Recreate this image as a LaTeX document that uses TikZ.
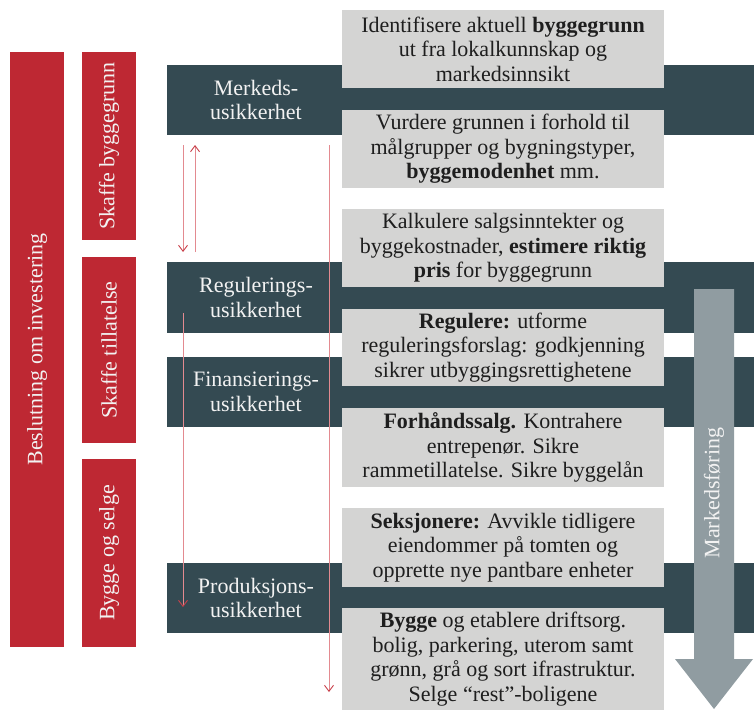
\documentclass[tikz,border=0pt]{standalone}
\usepackage{fontspec}
\setmainfont{Liberation Serif}
\usetikzlibrary{arrows.meta}
\definecolor{redbox}{HTML}{BE2833}
\definecolor{darkbar}{HTML}{344A52}
\definecolor{graybox}{HTML}{D4D4D3}
\definecolor{arrowgray}{HTML}{909CA1}
\definecolor{thinred}{HTML}{E38A90}
\definecolor{tipred}{HTML}{C8404A}
\definecolor{txt}{HTML}{1E1E1E}
\definecolor{lighttxt}{HTML}{F2F2F2}
\begin{document}
\begin{tikzpicture}[x=1pt,y=-1pt,
  fnt/.style={font=\fontsize{22}{24.5}\selectfont},
  redbar/.style={fill=redbox, draw=none, inner sep=0pt, text=lighttxt, rotate=90, fnt, minimum height=54pt},
  darkband/.style={fill=darkbar, draw=none, inner sep=0pt, anchor=west, minimum width=587pt, minimum height=70pt},
  barlabel/.style={text=lighttxt, align=center, fnt, inner sep=0pt},
  grayb/.style={fill=graybox, draw=none, inner sep=0pt, text=txt, align=center, fnt, minimum width=322pt},
  thinarrow/.style={draw=thinred, line width=0.9pt, -{Straight Barb[length=6pt,width=9pt,color=tipred]}}
]
\useasboundingbox (0,0) rectangle (754,709);

% red phase bars
\node[redbar, minimum width=595pt] (dec) at (37,349.5) {Beslutning om investering};
\node[redbar, minimum width=188pt] (p1) at (109,146) {Skaffe byggegrunn};
\node[redbar, minimum width=186pt] (p2) at (109,350) {Skaffe tillatelse};
\node[redbar, minimum width=188pt] (p3) at (109,553) {Bygge og selge};

% dark uncertainty bands
\node[darkband] (b1) at (167,100) {};
\node[darkband, minimum height=71pt] (b2) at (167,297.5) {};
\node[darkband] (b3) at (167,392) {};
\node[darkband] (b4) at (167,598) {};
\node[barlabel] (l1) at (256,100) {Merkeds-\\usikkerhet};
\node[barlabel] (l2) at (256,297.5) {Regulerings-\\usikkerhet};
\node[barlabel] (l3) at (256,392) {Finansierings-\\usikkerhet};
\node[barlabel] (l4) at (256,598) {Produksjons-\\usikkerhet};

% thin red arrows
\coordinate (a1s) at (183,145); \coordinate (a1e) at (183,252);
\coordinate (a2s) at (195,252); \coordinate (a2e) at (195,145);
\coordinate (a3s) at (183,313); \coordinate (a3e) at (183,607);
\coordinate (a4s) at (329,145); \coordinate (a4e) at (329,692);
\draw[thinarrow] (a1s) -- (a1e);
\draw[thinarrow] (a2s) -- (a2e);
\draw[thinarrow] (a3s) -- (a3e);
\draw[thinarrow] (a4s) -- (a4e);

% gray activity boxes
\node[grayb, minimum height=78pt] (g1) at (503,49) {Identifisere aktuell \textbf{byggegrunn}\\ut fra lokalkunnskap og\\markedsinnsikt};
\node[grayb, minimum height=78pt] (g2) at (503,149) {Vurdere grunnen i forhold til\\målgrupper og bygningstyper,\\\textbf{byggemodenhet} mm.};
\node[grayb, minimum height=78pt] (g3) at (503,248) {Kalkulere salgsinntekter og\\byggekostnader, \textbf{estimere riktig}\\\textbf{pris} for byggegrunn};
\node[grayb, minimum height=77pt] (g4) at (503,347.5) {\textbf{Regulere:} utforme\\reguleringsforslag: godkjenning\\sikrer utbyggingsrettighetene};
\node[grayb, minimum height=79pt] (g5) at (503,447.5) {\textbf{Forhåndssalg.} Kontrahere\\entrepenør. Sikre\\rammetillatelse. Sikre byggelån};
\node[grayb, minimum height=79pt] (g6) at (503,547.5) {\textbf{Seksjonere:} Avvikle tidligere\\eiendommer på tomten og\\opprette nye pantbare enheter};
\node[grayb, minimum height=102pt] (g7) at (503,659) {\textbf{Bygge} og etablere driftsorg.\\bolig, parkering, uterom samt\\grønn, grå og sort ifrastruktur.\\Selge “rest”-boligene};

% big marketing arrow
\fill[arrowgray] (694,289) -- (734,289) -- (734,659) -- (753,659) -- (714,709) -- (675,659) -- (694,659) -- cycle;
\node[barlabel, rotate=90, text=lighttxt] (mf) at (714,493) {Markedsføring};
\end{tikzpicture}
\end{document}
